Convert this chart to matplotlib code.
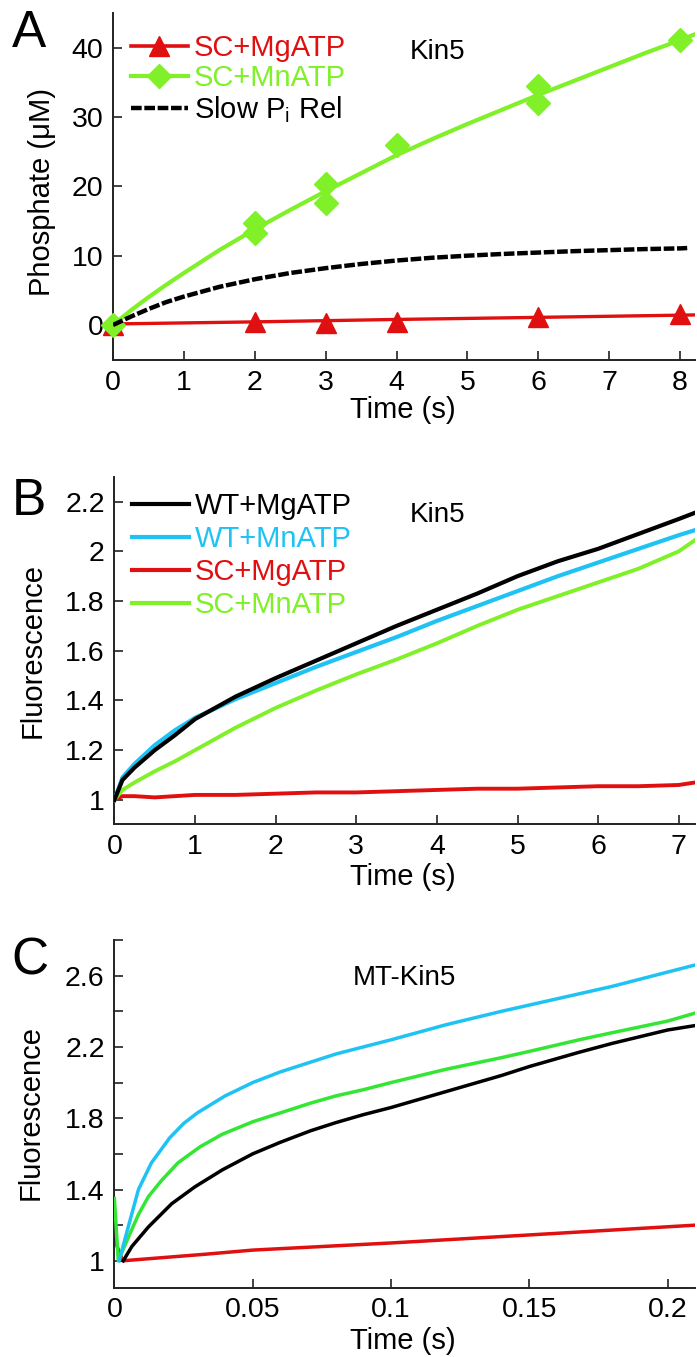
import matplotlib
matplotlib.use("Agg")
import matplotlib.pyplot as plt

plt.rcParams['font.family'] = ['Liberation Sans', 'DejaVu Sans']
plt.rcParams['mathtext.fontset'] = 'custom'
plt.rcParams['mathtext.rm'] = 'Liberation Sans'
plt.rcParams['mathtext.it'] = 'Liberation Sans'

# ---------------- Data: panel A ----------------
a_mg_t = [0, 2, 3, 4, 6, 8]
a_mg_y = [0, 0.5, 0.3, 0.5, 1.2, 1.6]
a_mg_fit_t = [0, 2, 4, 6, 8.2]
a_mg_fit_y = [0.15, 0.45, 0.8, 1.1, 1.45]

a_mn_t = [0, 2, 2, 3, 3, 4, 6, 6, 8]
a_mn_y = [0, 13.3, 14.7, 17.6, 20.3, 26.0, 32.0, 34.5, 41.1]
a_mn_fit_t = [0, 0.25, 0.5, 0.75, 1, 1.5, 2, 2.5, 3, 3.5, 4, 4.5, 5, 5.5, 6, 6.5, 7, 7.5, 8, 8.2]
a_mn_fit_y = [0, 2.1, 4.0, 5.8, 7.5, 10.8, 13.8, 16.6, 19.3, 21.9, 24.5, 26.8, 29.0, 31.1, 33.2, 35.2, 37.2, 39.2, 41.1, 41.9]

a_slow_t = [0, 0.25, 0.5, 0.75, 1, 1.5, 2, 2.5, 3, 3.5, 4, 4.5, 5, 5.5, 6, 6.5, 7, 7.5, 8, 8.1]
a_slow_y = [0, 1.2, 2.3, 3.3, 4.1, 5.5, 6.6, 7.5, 8.2, 8.8, 9.3, 9.7, 10.0, 10.25, 10.45, 10.65, 10.8, 10.95, 11.05, 11.1]

a_xticks = [0, 1, 2, 3, 4, 5, 6, 7, 8]
a_yticks = [0, 10, 20, 30, 40]

# ---------------- Data: panel B ----------------
b_t = [0, 0.1, 0.25, 0.5, 0.75, 1, 1.5, 2, 2.5, 3, 3.5, 4, 4.5, 5, 5.5, 6, 6.5, 7, 7.2]
b_wt_mg = [1.0, 1.08, 1.13, 1.20, 1.26, 1.325, 1.415, 1.49, 1.56, 1.63, 1.70, 1.765, 1.83, 1.90, 1.96, 2.01, 2.07, 2.13, 2.155]
b_wt_mn = [1.0, 1.09, 1.145, 1.22, 1.28, 1.33, 1.405, 1.47, 1.535, 1.595, 1.655, 1.72, 1.78, 1.84, 1.90, 1.955, 2.01, 2.065, 2.085]
b_sc_mg = [1.0, 1.015, 1.015, 1.01, 1.015, 1.02, 1.02, 1.025, 1.03, 1.03, 1.035, 1.04, 1.045, 1.045, 1.05, 1.055, 1.055, 1.06, 1.07]
b_sc_mn = [1.0, 1.04, 1.07, 1.115, 1.155, 1.20, 1.29, 1.37, 1.44, 1.505, 1.565, 1.63, 1.70, 1.765, 1.82, 1.875, 1.93, 2.00, 2.045]

b_xticks = [0, 1, 2, 3, 4, 5, 6, 7]
b_yticks = [1.0, 1.2, 1.4, 1.6, 1.8, 2.0, 2.2]
b_yticklabels = ["1", "1.2", "1.4", "1.6", "1.8", "2", "2.2"]

# ---------------- Data: panel C ----------------
c_wtmn_t = [0.0017, 0.005, 0.0087, 0.0134, 0.02, 0.025, 0.03, 0.04, 0.05, 0.06, 0.07, 0.08, 0.09, 0.1, 0.12, 0.14, 0.16, 0.18, 0.2, 0.21]
c_wtmn_y = [1.0, 1.19, 1.40, 1.55, 1.69, 1.77, 1.83, 1.925, 2.00, 2.06, 2.11, 2.16, 2.20, 2.24, 2.325, 2.40, 2.47, 2.54, 2.62, 2.66]

c_scmn_t = [0, 0.0014, 0.005, 0.0087, 0.0123, 0.017, 0.023, 0.031, 0.039, 0.05, 0.06, 0.071, 0.08, 0.09, 0.1, 0.12, 0.14, 0.15, 0.168, 0.18, 0.2, 0.21]
c_scmn_y = [1.35, 1.0, 1.13, 1.26, 1.36, 1.45, 1.55, 1.64, 1.71, 1.78, 1.83, 1.885, 1.925, 1.96, 2.00, 2.075, 2.14, 2.175, 2.24, 2.28, 2.345, 2.39]

c_wtmg_t = [0.0032, 0.0063, 0.0123, 0.0207, 0.0291, 0.039, 0.05, 0.06, 0.071, 0.08, 0.09, 0.1, 0.12, 0.14, 0.15, 0.168, 0.18, 0.2, 0.21]
c_wtmg_y = [1.0, 1.08, 1.19, 1.32, 1.415, 1.51, 1.60, 1.665, 1.73, 1.775, 1.82, 1.86, 1.95, 2.04, 2.09, 2.17, 2.22, 2.295, 2.32]

c_scmg_t = [0, 0.003, 0.033, 0.05, 0.1, 0.15, 0.21]
c_scmg_y = [1.12, 1.0, 1.037, 1.06, 1.10, 1.145, 1.20]

c_xticks = [0, 0.05, 0.1, 0.15, 0.2]
c_xticklabels = ["0", "0.05", "0.1", "0.15", "0.2"]
c_yticks = [1.0, 1.2, 1.4, 1.6, 1.8, 2.0, 2.2, 2.4, 2.6, 2.8]
c_yticklabels = ["1", "", "1.4", "", "1.8", "", "2.2", "", "2.6", ""]

# ---------------- Styling ----------------
RED = "#e01010"
LIME = "#80f028"
GREEN_C = "#33e633"
BLUE = "#1ec3f3"
BLACK = "#000000"
SPINE = "#222222"

W, H = 697, 1357
fig = plt.figure(figsize=(W / 100, H / 100), dpi=100)


def fxy(x, y):
    return x / W, 1 - y / H


def axes_px(l, t, r, b):
    return fig.add_axes([l / W, 1 - b / H, (r - l) / W, (b - t) / H])


TICK_FS = 20.5
LABEL_FS = 21
LEG_FS = 21
NOTE_FS = 20
LETTER_FS = 37


def style(ax):
    for s in ("top", "right"):
        ax.spines[s].set_visible(False)
    for s in ("left", "bottom"):
        ax.spines[s].set_color(SPINE)
        ax.spines[s].set_linewidth(1.4)
    ax.tick_params(direction="in", length=6.5, width=1.2, color=SPINE,
                   labelsize=TICK_FS, pad=7)


# ---------------- Panel A ----------------
axA = axes_px(113, 12.7, 695, 360)
style(axA)
axA.plot(a_mg_fit_t, a_mg_fit_y, color=RED, lw=2.4, zorder=2)
axA.plot(a_mg_t, a_mg_y, ls="none", marker="^", ms=15, color=RED, zorder=3,
         clip_on=False)
axA.plot(a_mn_fit_t, a_mn_fit_y, color=LIME, lw=3.0, zorder=4)
axA.plot(a_mn_t, a_mn_y, ls="none", marker="D", ms=12.5, color=LIME, zorder=5,
         clip_on=False)
axA.plot(a_slow_t, a_slow_y, color=BLACK, lw=3.2, ls=(0, (2.4, 0.6)), zorder=6)
axA.set_xlim(0, 8.21)
axA.set_ylim(-5.05, 45.05)
axA.set_xticks(a_xticks)
axA.set_xticklabels([str(v) for v in a_xticks])
axA.set_yticks(a_yticks)
axA.set_yticklabels([str(v) for v in a_yticks])

hA = [
    plt.Line2D([], [], color=RED, lw=2.6, marker="^", ms=15),
    plt.Line2D([], [], color=LIME, lw=3.0, marker="D", ms=12.5),
    plt.Line2D([], [], color=BLACK, lw=3.2, ls=(0, (2.4, 0.6))),
]
legA = fig.legend(hA, ["SC+MgATP", "SC+MnATP", r"Slow P$_\mathregular{i}$ Rel"],
                  loc="upper left", bbox_to_anchor=fxy(131, 34), frameon=False,
                  fontsize=LEG_FS, handlelength=1.95, handletextpad=0.2,
                  labelspacing=0.08, borderpad=0, borderaxespad=0, numpoints=1)
for t, c in zip(legA.get_texts(), [RED, LIME, BLACK]):
    t.set_color(c)

fig.text(*fxy(437.7, 51.7), "Kin5", fontsize=NOTE_FS, ha="center", va="center")
fig.text(*fxy(29, 33.5), "A", fontsize=LETTER_FS, ha="center", va="center")
fig.text(*fxy(403, 410), "Time (s)", fontsize=LABEL_FS, ha="center", va="center")
fig.text(*fxy(42, 192.5), "Phosphate (\u03bcM)", fontsize=LABEL_FS, ha="center",
         va="center", rotation=90)

# ---------------- Panel B ----------------
axB = axes_px(114.4, 476.7, 695, 824)
style(axB)
axB.plot(b_t, b_sc_mg, color=RED, lw=2.8, zorder=2)
axB.plot(b_t, b_sc_mn, color=LIME, lw=2.8, zorder=3)
axB.plot(b_t, b_wt_mn, color=BLUE, lw=3.0, zorder=4)
axB.plot(b_t, b_wt_mg, color=BLACK, lw=3.0, zorder=5)
axB.set_xlim(0, 7.2)
axB.set_ylim(0.903, 2.3)
axB.set_xticks(b_xticks)
axB.set_xticklabels([str(v) for v in b_xticks])
axB.set_yticks(b_yticks)
axB.set_yticklabels(b_yticklabels)

hB = [plt.Line2D([], [], color=c, lw=3.0) for c in (BLACK, BLUE, RED, LIME)]
legB = fig.legend(hB, ["WT+MgATP", "WT+MnATP", "SC+MgATP", "SC+MnATP"],
                  loc="upper left", bbox_to_anchor=fxy(132, 492), frameon=False,
                  fontsize=LEG_FS, handlelength=1.95, handletextpad=0.2,
                  labelspacing=0.17, borderpad=0, borderaxespad=0)
for t, c in zip(legB.get_texts(), [BLACK, BLUE, RED, LIME]):
    t.set_color(c)

fig.text(*fxy(437.7, 515), "Kin5", fontsize=NOTE_FS, ha="center", va="center")
fig.text(*fxy(29, 501), "B", fontsize=LETTER_FS, ha="center", va="center")
fig.text(*fxy(403, 877), "Time (s)", fontsize=LABEL_FS, ha="center", va="center")
fig.text(*fxy(33, 650), "Fluorescence", fontsize=LABEL_FS, ha="center",
         va="center", rotation=90)

# ---------------- Panel C ----------------
axC = axes_px(114.4, 940, 695, 1287.7)
style(axC)
axC.plot(c_scmg_t, c_scmg_y, color=RED, lw=2.5, zorder=2)
axC.plot(c_wtmg_t, c_wtmg_y, color=BLACK, lw=2.5, zorder=3)
axC.plot(c_scmn_t, c_scmn_y, color=GREEN_C, lw=2.5, zorder=4)
axC.plot(c_wtmn_t, c_wtmn_y, color=BLUE, lw=2.5, zorder=5)
axC.set_xlim(0, 0.2099)
axC.set_ylim(0.849, 2.80)
axC.set_xticks(c_xticks)
axC.set_xticklabels(c_xticklabels)
axC.set_yticks(c_yticks)
axC.set_yticklabels(c_yticklabels)

fig.text(*fxy(404, 978), "MT-Kin5", fontsize=NOTE_FS, ha="center", va="center")
fig.text(*fxy(30, 961), "C", fontsize=LETTER_FS, ha="center", va="center")
fig.text(*fxy(403, 1341), "Time (s)", fontsize=LABEL_FS, ha="center", va="center")
fig.text(*fxy(31, 1112.5), "Fluorescence", fontsize=LABEL_FS, ha="center",
         va="center", rotation=90)

fig.savefig("out.png", dpi=100)
